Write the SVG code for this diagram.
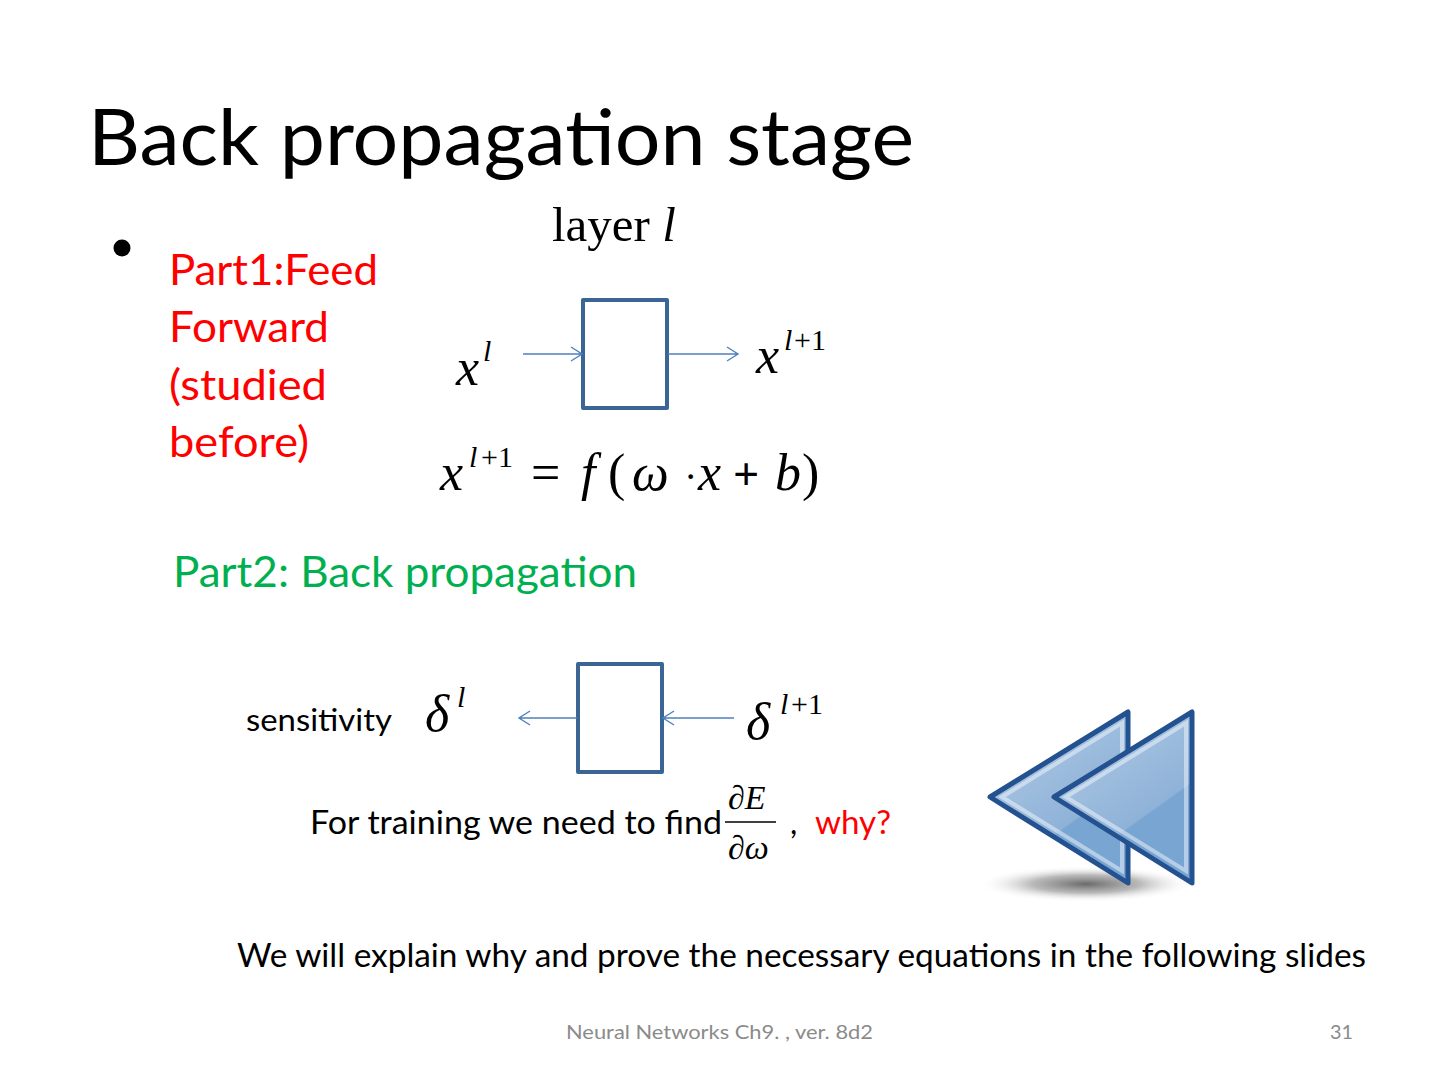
<svg xmlns="http://www.w3.org/2000/svg" width="1440" height="1080" viewBox="0 0 1440 1080">
<style>
.c{font-family:Lato,"Noto Sans",sans-serif}
.m{font-family:"Liberation Serif","Times New Roman",serif;fill:#000}
.i{font-style:italic}
.box{fill:#fff;stroke:#3b6595;stroke-width:4;stroke-linejoin:round}
.conn{stroke:#4f81bd;stroke-width:1.4;fill:none}
.head{stroke:#4f81bd;stroke-width:1.4;fill:none}
.tri{stroke:#24518f;stroke-width:5;stroke-linejoin:round}
.hl{fill:none;stroke:#fff;stroke-opacity:.45;stroke-width:4}
</style>
<defs>
<linearGradient id="g1" x1="0.35" y1="0.1" x2="0.65" y2="0.62">
<stop offset="0" stop-color="#a9c5e2"/><stop offset="0.98" stop-color="#8fb2d8"/><stop offset="1" stop-color="#78a5d1"/>
</linearGradient>
<radialGradient id="sh" cx="0.5" cy="0.5" r="0.5">
<stop offset="0" stop-color="#6a6a6a"/><stop offset="0.5" stop-color="#a8a8a8" stop-opacity=".8"/><stop offset="1" stop-color="#fff" stop-opacity="0"/>
</radialGradient>
</defs>
<rect width="1440" height="1080" fill="#fff"/>
<g id="title"><text class="c" x="88" y="165" font-size="77" textLength="826" lengthAdjust="spacingAndGlyphs">Back propagation stage</text></g>
<g id="bullet"><circle cx="122" cy="248" r="8.5" fill="#000"/></g>
<g id="part1" class="c" font-size="43" fill="#ff0000">
<text x="169" y="285" textLength="209" lengthAdjust="spacingAndGlyphs">Part1:Feed</text>
<text x="169" y="342" textLength="160" lengthAdjust="spacingAndGlyphs">Forward</text>
<text x="169" y="400" textLength="158" lengthAdjust="spacingAndGlyphs">(studied</text>
<text x="169" y="457" textLength="140" lengthAdjust="spacingAndGlyphs">before)</text>
</g>
<g id="layer-label"><text class="m" x="552" y="241" font-size="49">layer <tspan class="i">l</tspan></text></g>
<g id="layer-box"><rect class="box" x="583" y="300" width="84" height="108"/></g>
<g id="x-l"><text class="m i" x="456" y="385" font-size="52">x</text><text class="m i" x="483" y="361" font-size="30">l</text></g>
<g id="x-l1"><text class="m i" x="756" y="373" font-size="52">x</text><text class="m i" x="784" y="350" font-size="30">l</text><text class="m" x="794" y="350" font-size="30">+1</text></g>
<g id="eq1">
<text class="m i" x="440" y="490" font-size="52">x</text><text class="m i" x="469" y="467" font-size="30">l</text><text class="m" x="481" y="467" font-size="30">+1</text>
<text class="m" x="531" y="490" font-size="52">=</text>
<text class="m i" x="581" y="490" font-size="52">f</text>
<text class="m" x="608" y="490" font-size="52">(</text>
<text class="m i" x="632" y="490" font-size="52">ω</text>
<text class="m" x="684" y="490" font-size="40">·</text>
<text class="m i" x="698" y="490" font-size="52">x</text>
<text class="m" x="733" y="490" font-size="46" font-weight="bold">+</text>
<text class="m i" x="775" y="490" font-size="52">b</text>
<text class="m" x="802" y="490" font-size="52">)</text>
</g>
<g id="part2"><text class="c" x="173" y="587" font-size="42" fill="#00b050" textLength="464" lengthAdjust="spacingAndGlyphs">Part2: Back propagation</text></g>
<g id="sens-box"><rect class="box" x="578" y="664" width="84" height="108"/></g>
<g id="sensitivity"><text class="c" x="246" y="731" font-size="30" textLength="146" lengthAdjust="spacingAndGlyphs">sensitivity</text></g>
<g id="delta-l"><text class="m i" x="425" y="731" font-size="52">δ</text><text class="m i" x="457" y="707" font-size="30">l</text></g>
<g id="delta-l1"><text class="m i" x="746" y="739" font-size="52">δ</text><text class="m i" x="780" y="714" font-size="30">l</text><text class="m" x="791" y="714" font-size="30">+1</text></g>
<g id="connectors">
<path class="conn" d="M523 354H582M571 347L582 354L571 361"/>
<path class="conn" d="M668 354H738M727 347L738 354L727 361"/>
<path class="conn" d="M577 718H519M530 711L519 718L530 725"/>
<path class="conn" d="M734 718H663M674 711L663 718L674 725"/>
</g>
<g id="train">
<text class="c" x="310" y="834" font-size="32" textLength="412" lengthAdjust="spacingAndGlyphs">For training we  need to find</text>
<text class="m i" x="728" y="809" font-size="34"><tspan font-style="normal">∂</tspan>E</text>
<path d="M725 822H776" stroke="#000" stroke-width="1.6"/>
<text class="m i" x="728" y="859" font-size="34"><tspan font-style="normal">∂</tspan>ω</text>
<text class="c" x="790" y="834" font-size="32">,</text>
<text class="c" x="815" y="834" font-size="32" fill="#ff0000" textLength="76" lengthAdjust="spacingAndGlyphs">why?</text>
</g>
<g id="back-icon">
<ellipse cx="1086" cy="884" rx="108" ry="18" fill="url(#sh)"/>
<polygon class="tri" points="990,797 1128,712 1128,883" fill="url(#g1)"/>
<polygon class="hl" points="1002,797 1122,723 1122,871"/>
<polygon class="tri" points="1054,797 1192,712 1192,883" fill="url(#g1)"/>
<polygon class="hl" points="1066,797 1186,723 1186,871"/>
</g>
<g id="explain"><text class="c" x="237" y="967" font-size="32" textLength="1129" lengthAdjust="spacingAndGlyphs">We will explain why and prove the necessary equations in the following slides</text></g>
<g id="footer" class="c" font-size="20" fill="#8b8b8b">
<text x="566" y="1039" textLength="307" lengthAdjust="spacingAndGlyphs">Neural Networks Ch9. , ver. 8d2</text>
<text x="1330" y="1039" textLength="23" lengthAdjust="spacingAndGlyphs">31</text>
</g>
</svg>
